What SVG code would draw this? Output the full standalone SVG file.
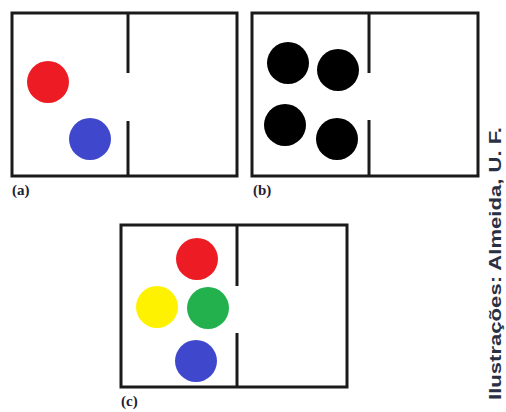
<svg xmlns="http://www.w3.org/2000/svg" width="506" height="412" viewBox="0 0 506 412">
<style>
.box{fill:#fff;stroke:#1a1a1a;stroke-width:3}
.wall{stroke:#1a1a1a;stroke-width:3;fill:none}
.lbl{font-family:"Liberation Serif",serif;font-weight:bold;font-size:15px;fill:#1e2230}
.credit{font-family:"Liberation Sans",Arial,sans-serif;font-weight:bold;font-size:17px;fill:#2a3044}
</style>
<rect width="506" height="412" fill="#fff"/>
<g id="panel-a">
<rect class="box" x="12" y="13" width="225" height="163"/>
<line class="wall" x1="128" y1="13" x2="128" y2="73"/>
<line class="wall" x1="128" y1="121" x2="128" y2="176"/>
<circle cx="48" cy="82" r="21" fill="#ed1c24"/>
<circle cx="90" cy="139" r="21" fill="#3f48cc"/>
<text class="lbl" x="12" y="195">(a)</text>
</g>
<g id="panel-b">
<rect class="box" x="252" y="13" width="226" height="163"/>
<line class="wall" x1="369" y1="13" x2="369" y2="73"/>
<line class="wall" x1="369" y1="120" x2="369" y2="176"/>
<circle cx="288" cy="63" r="21" fill="#000"/>
<circle cx="338" cy="70" r="21" fill="#000"/>
<circle cx="285" cy="125" r="21" fill="#000"/>
<circle cx="337" cy="139" r="21" fill="#000"/>
<text class="lbl" x="253" y="195">(b)</text>
</g>
<g id="panel-c">
<rect class="box" x="121" y="225" width="226" height="162"/>
<line class="wall" x1="237" y1="225" x2="237" y2="286"/>
<line class="wall" x1="237" y1="333" x2="237" y2="387"/>
<circle cx="197" cy="259" r="21" fill="#ed1c24"/>
<circle cx="157" cy="307" r="21" fill="#fff200"/>
<circle cx="208" cy="308" r="21" fill="#22b14c"/>
<circle cx="196" cy="361" r="21" fill="#3f48cc"/>
<text class="lbl" x="121" y="406">(c)</text>
</g>
<text class="credit" transform="translate(501,400) rotate(-90)" textLength="273" lengthAdjust="spacingAndGlyphs">Ilustrações: Almeida, U. F.</text>
</svg>
